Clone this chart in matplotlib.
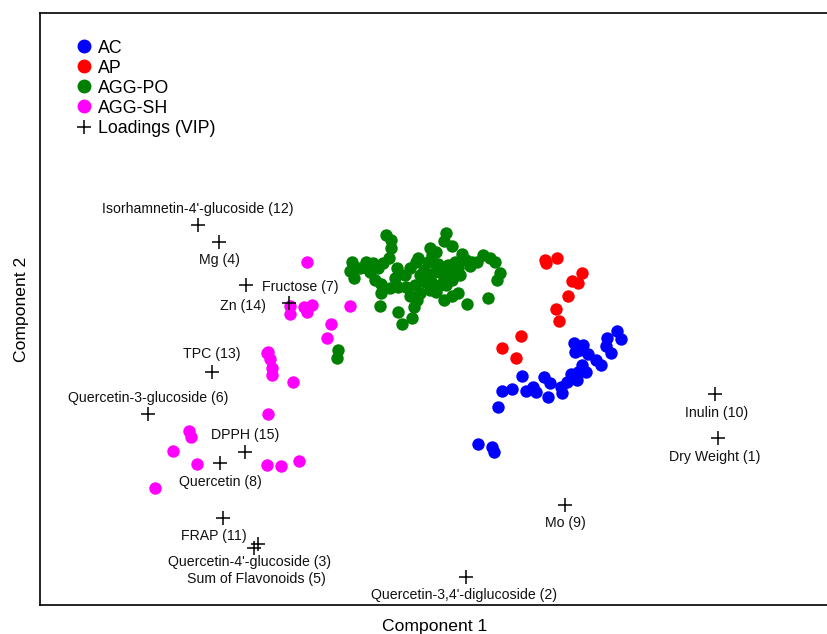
import numpy as np
import matplotlib
matplotlib.use("Agg")
import matplotlib.pyplot as plt
from matplotlib.lines import Line2D

plt.rcParams['font.family'] = ['Liberation Sans', 'DejaVu Sans']

# PLS-DA scores (component 1, component 2)
ac_x = [2.17, 2.21, 2.07, 2.06, 2.11, 1.74, 1.83, 1.75, 1.88, 1.96, 2.01, 1.82,
        1.86, 1.78, 1.71, 1.77, 1.67, 1.61, 1.62, 1.50, 1.44, 1.48, 1.33, 1.36,
        1.26, 1.22, 1.12, 1.02, 0.98, 0.78, 0.92, 0.94, 1.80]
ac_y = [-0.11, -0.19, -0.18, -0.26, -0.33, -0.23, -0.25, -0.32, -0.34, -0.40, -0.45, -0.45,
        -0.52, -0.52, -0.54, -0.60, -0.62, -0.67, -0.73, -0.63, -0.57, -0.77, -0.67, -0.72,
        -0.71, -0.56, -0.69, -0.71, -0.87, -1.24, -1.27, -1.32, -0.30]

ap_x = [1.45, 1.57, 1.46, 1.82, 1.72, 1.78, 1.68, 1.56, 1.59, 1.21, 1.02, 1.16]
ap_y = [0.60, 0.62, 0.57, 0.47, 0.39, 0.37, 0.24, 0.11, -0.01, -0.16, -0.28, -0.38]

po_x = [-0.14, -0.09, -0.09, -0.11, 0.46, 0.44, 0.52, -0.48, -0.50, -0.46, -0.40, -0.34,
        -0.27, -0.22, -0.17, -0.30, -0.25, -0.19, -0.19, -0.03, -0.05, -0.10, -0.02, 0.06,
        0.10, 0.05, 0.10, 0.16, 0.18, 0.24, 0.28, 0.25, 0.30, 0.36, 0.28, 0.32,
        0.30, 0.36, 0.38, 0.42, 0.44, 0.46, 0.48, 0.50, 0.52, 0.55, 0.58, 0.60,
        0.62, 0.66, 0.70, 0.72, 0.77, 0.83, 0.90, 0.95, 1.00, 0.97, 0.88, 0.44,
        0.52, 0.58, 0.67, -0.20, -0.02, 0.12, 0.14, 0.17, 0.20, 0.02, -0.62, -0.63,
        0.20, 0.32, 0.15, 0.40, 0.35, -0.33]
po_y = [0.85, 0.80, 0.72, 0.62, 0.87, 0.79, 0.74, 0.58, 0.49, 0.42, 0.52, 0.58,
        0.57, 0.52, 0.57, 0.48, 0.40, 0.36, 0.27, 0.52, 0.42, 0.32, 0.33, 0.33,
        0.24, 0.45, 0.52, 0.58, 0.62, 0.50, 0.44, 0.38, 0.30, 0.28, 0.58, 0.65,
        0.72, 0.68, 0.56, 0.48, 0.42, 0.35, 0.55, 0.48, 0.40, 0.58, 0.52, 0.45,
        0.66, 0.60, 0.54, 0.58, 0.58, 0.65, 0.62, 0.58, 0.47, 0.40, 0.22, 0.20,
        0.24, 0.27, 0.16, 0.14, 0.08, 0.02, 0.13, 0.20, 0.27, -0.04, -0.30, -0.38,
        0.45, 0.37, 0.35, 0.35, 0.48, 0.52]

sh_x = [-0.93, -1.10, -1.10, -0.96, -0.88, -0.93, -0.50, -0.69, -0.73, -1.32, -1.33, -1.30,
        -1.28, -1.28, -1.07, -1.32, -2.11, -2.09, -2.27, -2.03, -1.33, -1.19, -1.01, -2.45]
sh_y = [0.58, 0.14, 0.06, 0.13, 0.15, 0.08, 0.14, -0.04, -0.18, -0.32, -0.33, -0.39,
        -0.48, -0.55, -0.62, -0.94, -1.11, -1.17, -1.31, -1.44, -1.45, -1.46, -1.41, -1.68]

# loadings (VIP variables)
load_names = ["Dry Weight (1)", "Quercetin-3,4'-diglucoside (2)", "Quercetin-4'-glucoside (3)",
              "Mg (4)", "Sum of Flavonoids (5)", "Quercetin-3-glucoside (6)", "Fructose (7)",
              "Quercetin (8)", "Mo (9)", "Inulin (10)", "FRAP (11)",
              "Isorhamnetin-4'-glucoside (12)", "TPC (13)", "Zn (14)", "DPPH (15)"]
load_x = [3.18, 0.66, -1.42, -1.81, -1.46, -2.52, -1.11, -1.80, 1.65, 3.15, -1.77,
          -2.02, -1.88, -1.54, -1.55]
load_y = [-1.18, -2.57, -2.24, 0.78, -2.28, -0.94, 0.17, -1.43, -1.85, -0.74, -1.98,
          0.95, -0.52, 0.35, -1.32]
# label offsets from each cross, in pixels
label_dx = [-3, -2, -8, 0, 2, 0, 11, 0, 0, 2, -9, 0, 0, -3, 0]
label_dy = [-19, -18, -18, -18, -31, 16, 16, -19, -18, -19, -18, 16, 18, -21, 17]

fig = plt.figure(figsize=(8.28, 6.34), dpi=100)
ax = fig.add_axes([40 / 828, 29 / 634, 790 / 828, 592 / 634])

ms = 80
ax.scatter(ac_x, ac_y, s=ms, color='#0000FF', linewidths=0, zorder=2)
ax.scatter(ap_x, ap_y, s=ms, color='#FF0000', linewidths=0, zorder=2)
ax.scatter(po_x, po_y, s=ms, color='#008000', linewidths=0, zorder=2)
ax.scatter(sh_x, sh_y, s=ms, color='#FF00FF', linewidths=0, zorder=2)
ax.plot(load_x, load_y, '+', color='black', markersize=10, markeredgewidth=1.1,
        linestyle='none', zorder=3)

for name, x, y, dx, dy in zip(load_names, load_x, load_y, label_dx, label_dy):
    ax.annotate(name, (x, y), xytext=(dx * 0.72, dy * 0.72), textcoords='offset points',
                ha='center', va='center', fontsize=10.2, color='#111111')

ax.set_xlim(-3.60, 4.30)
ax.set_ylim(-2.85, 3.07)
ax.set_xticks([])
ax.set_yticks([])
ax.spines['right'].set_visible(False)
for s in ['left', 'top', 'bottom']:
    ax.spines[s].set_linewidth(1.2)
ax.set_xlabel('Component 1', fontsize=12.6, labelpad=10)
ax.set_ylabel('Component 2', fontsize=12.6, labelpad=8)

handles = [
    Line2D([], [], marker='o', color='#0000FF', linestyle='none', markersize=9),
    Line2D([], [], marker='o', color='#FF0000', linestyle='none', markersize=9),
    Line2D([], [], marker='o', color='#008000', linestyle='none', markersize=9),
    Line2D([], [], marker='o', color='#FF00FF', linestyle='none', markersize=9),
    Line2D([], [], marker='+', color='black', linestyle='none', markersize=10,
           markeredgewidth=1.1),
]
ax.legend(handles, ['AC', 'AP', 'AGG-PO', 'AGG-SH', 'Loadings (VIP)'],
          loc='upper left', bbox_to_anchor=(0.036, 0.97), frameon=False,
          fontsize=12.8, handlelength=0.7, handletextpad=0.45, labelspacing=0.17,
          borderpad=0)

fig.savefig('out.png', dpi=100)
